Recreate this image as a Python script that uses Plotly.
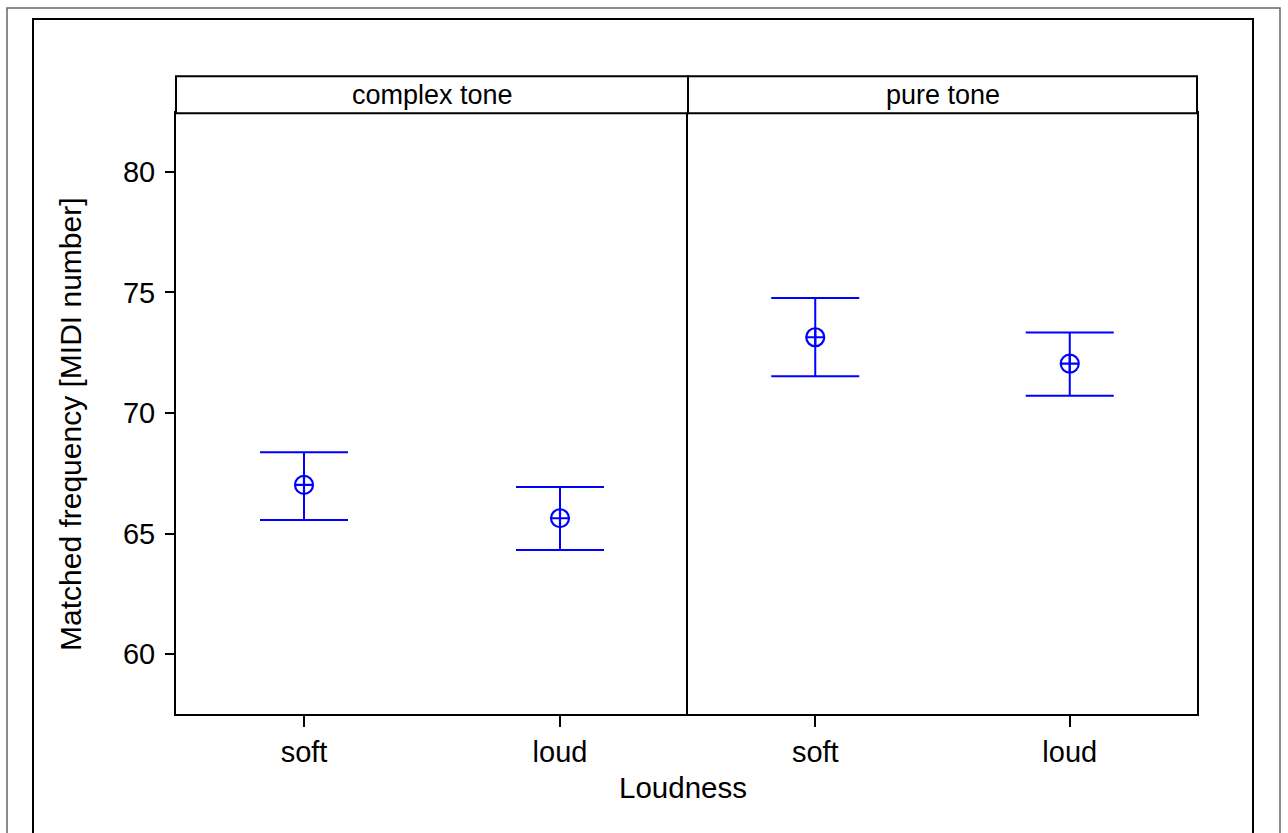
import plotly.graph_objects as go

# ---- data ----
panels = ["complex tone", "pure tone"]
loudness = ["soft", "loud"]
mean_complex = [67.02, 65.64]
upper_complex = [68.37, 66.93]
lower_complex = [65.57, 64.32]
mean_pure = [73.14, 72.05]
upper_pure = [74.77, 73.34]
lower_pure = [71.52, 70.72]
y_ticks = [60, 65, 70, 75, 80]

W, H = 1288, 833
def px(x):
    return x / W
def py(y):
    return 1 - y / H

FONT = "Liberation Sans, Arial, sans-serif"
BLUE = "#0000FF"

fig = go.Figure()

def add_panel(means, ups, lows, xa, ya):
    fig.add_trace(go.Scatter(
        x=loudness, y=means, mode="markers",
        marker=dict(symbol="circle-cross-open", size=18, color=BLUE, line=dict(width=2.2, color=BLUE)),
        error_y=dict(type="data", symmetric=False,
                     array=[u - m for u, m in zip(ups, means)],
                     arrayminus=[m - l for m, l in zip(means, lows)],
                     color=BLUE, thickness=2, width=44),
        xaxis=xa, yaxis=ya, showlegend=False, hoverinfo="skip"))

add_panel(mean_complex, upper_complex, lower_complex, "x", "y")
add_panel(mean_pure, upper_pure, lower_pure, "x2", "y2")

yrange = [57.54, 82.42]
ydom = [py(713.7), py(113.3)]
line_common = dict(showline=True, linecolor="black", linewidth=2,
                   showgrid=False, zeroline=False)

fig.update_layout(
    width=W, height=H,
    margin=dict(l=0, r=0, t=0, b=0),
    paper_bgcolor="white", plot_bgcolor="white",
    font=dict(family=FONT, color="black"),
    xaxis=dict(domain=[px(176), px(688)], type="category", range=[-0.5, 1.5],
               ticks="outside", ticklen=11, tickwidth=2, tickcolor="black",
               tickfont=dict(size=29, family=FONT), anchor="y", mirror=True, **line_common),
    xaxis2=dict(domain=[px(688), px(1197)], type="category", range=[-0.5, 1.5],
                ticks="outside", ticklen=11, tickwidth=2, tickcolor="black",
                tickfont=dict(size=29, family=FONT), anchor="y2", mirror=True, **line_common),
    yaxis=dict(domain=ydom, range=yrange, tickvals=y_ticks,
               ticks="outside", ticklen=9, tickwidth=2, tickcolor="black",
               ticklabelstandoff=4, mirror=False,
               tickfont=dict(size=29, family=FONT), anchor="x", **line_common),
    yaxis2=dict(domain=ydom, range=yrange, tickvals=y_ticks, showticklabels=False,
                ticks="", anchor="x2", mirror=True, **line_common),
)

# strips
for x0, x1, label in [(176, 688, panels[0]), (688, 1197, panels[1])]:
    fig.add_shape(type="rect", xref="paper", yref="paper",
                  x0=px(x0), x1=px(x1), y0=py(113.3), y1=py(76.3),
                  line=dict(color="black", width=2), fillcolor="white")
    fig.add_annotation(x=px((x0 + x1) / 2), y=py(94.8), xref="paper", yref="paper",
                       text=label, showarrow=False, xanchor="center", yanchor="middle",
                       font=dict(size=27, family=FONT))

# axis titles
fig.add_annotation(x=px(683), y=py(787), xref="paper", yref="paper", text="Loudness",
                   showarrow=False, xanchor="center", yanchor="middle",
                   font=dict(size=29.5, family=FONT))
fig.add_annotation(x=px(70), y=py(424), xref="paper", yref="paper",
                   text="Matched frequency [MIDI number]", textangle=-90,
                   showarrow=False, xanchor="center", yanchor="middle",
                   font=dict(size=30, family=FONT))

# frame borders
fig.add_shape(type="rect", xref="paper", yref="paper",
              x0=px(7), x1=px(1280), y0=py(860), y1=py(8),
              line=dict(color="#666666", width=1.5), layer="below")
fig.add_shape(type="rect", xref="paper", yref="paper",
              x0=px(33), x1=px(1253), y0=py(860), y1=py(19),
              line=dict(color="black", width=2), layer="below")

fig.write_html("out.html")
